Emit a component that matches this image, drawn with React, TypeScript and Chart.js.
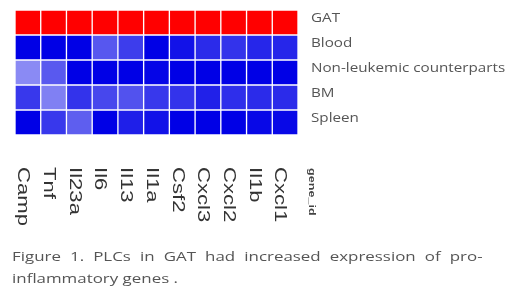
import React, { useEffect, useRef } from "react";
import { Chart, registerables } from "chart.js";

Chart.register(...registerables);

const genes = ["Camp", "Tnf", "Il23a", "Il6", "Il13", "Il1a", "Csf2", "Cxcl3", "Cxcl2", "Il1b", "Cxcl1"];
const rowNames = ["GAT", "Blood", "Non-leukemic counterparts", "BM", "Spleen"];
const headerLabel = "gene_id";

// z-scores per tissue (row), per gene (column)
const gatValues = [2.0, 2.0, 2.0, 2.0, 2.0, 2.0, 2.0, 2.0, 2.0, 2.0, 2.0];
const bloodValues = [-1.0, -1.0, -1.0, -0.66, -0.76, -1.0, -0.93, -0.83, -0.8, -0.85, -0.85];
const nonLeukemicValues = [-0.46, -0.65, -1.0, -1.0, -1.0, -0.98, -1.0, -1.0, -1.0, -1.0, -1.0];
const bmValues = [-0.78, -0.5, -0.8, -0.72, -0.68, -0.78, -0.8, -0.87, -0.82, -0.83, -0.83];
const spleenValues = [-1.0, -0.78, -0.63, -1.0, -0.88, -0.93, -1.0, -1.0, -1.0, -0.97, -0.97];

const rowValues = [gatValues, bloodValues, nonLeukemicValues, bmValues, spleenValues];
const cellHeights = [1, 1, 1, 1, 1, 1, 1, 1, 1, 1, 1];

function colorFor(v: number): string {
  if (v >= 0) {
    const t = Math.min(v / 2, 1);
    const c = Math.round(255 * (1 - t));
    return `rgb(255,${c},${c})`;
  }
  const t = Math.min(-v, 1);
  const c = Math.round(255 * (1 - t));
  const b = Math.round(255 - 25 * t);
  return `rgb(${c},${c},${b})`;
}

const labelPlugin = {
  id: "heatLabels",
  afterDraw(chart: any) {
    const ctx = chart.ctx;
    const xs = chart.scales.x;
    const ys = chart.scales.y;
    const n = rowNames.length;
    ctx.save();
    // row labels (right side)
    ctx.fillStyle = "#555";
    ctx.textAlign = "left";
    ctx.textBaseline = "middle";
    ctx.font = "13px 'Open Sans', sans-serif";
    rowNames.forEach((name, r) => {
      const y = ys.getPixelForValue(n - r - 0.5) - 4;
      ctx.save();
      ctx.translate(chart.chartArea.right + 13, y);
      ctx.scale(1.17, 1);
      ctx.fillText(name, 0, 0);
      ctx.restore();
    });
    // column labels (rotated, below)
    ctx.fillStyle = "#333";
    ctx.font = "17px 'Liberation Sans', Arial, sans-serif";
    genes.forEach((g, i) => {
      const x = xs.getPixelForValue(i) - 5;
      ctx.save();
      ctx.translate(x, 167);
      ctx.rotate(Math.PI / 2);
      ctx.scale(1.3, 1);
      ctx.fillText(g, 0, 0);
      ctx.restore();
    });
    ctx.font = "bold 9px 'Liberation Sans', Arial, sans-serif";
    ctx.fillStyle = "#444";
    ctx.save();
    ctx.translate(311, 168);
    ctx.rotate(Math.PI / 2);
    ctx.scale(1.4, 1);
    ctx.fillText(headerLabel, 0, 0);
    ctx.restore();
    ctx.restore();
  },
};

export default function App() {
  const ref = useRef<HTMLCanvasElement>(null);

  useEffect(() => {
    if (!ref.current) return;
    const n = rowNames.length;
    const datasets = rowNames
      .map((name, r) => ({
        label: name,
        data: cellHeights,
        backgroundColor: rowValues[r].map(colorFor),
        borderColor: "rgba(255,255,255,0.28)",
        borderWidth: 1,
        borderSkipped: false,
        barPercentage: 1,
        categoryPercentage: 1,
      }))
      .reverse();

    const chart = new Chart(ref.current, {
      type: "bar",
      data: { labels: genes, datasets },
      options: {
        animation: false,
        responsive: false,
        devicePixelRatio: 1,
        layout: { padding: { left: 15, top: 10, bottom: 160, right: 222 } },
        plugins: { legend: { display: false }, tooltip: { enabled: false } },
        scales: {
          x: { stacked: true, display: false },
          y: { stacked: true, display: false, min: 0, max: n },
        },
      },
      plugins: [labelPlugin],
    });
    return () => chart.destroy();
  }, []);

  const captionStyle: React.CSSProperties = {
    position: "absolute",
    left: 12,
    width: 362,
    fontFamily: "'Open Sans', sans-serif",
    fontSize: 13,
    lineHeight: "22px",
    color: "#555",
    whiteSpace: "nowrap",
    transform: "scaleX(1.3)",
    transformOrigin: "0 0",
  };

  return (
    <div style={{ position: "fixed", left: 0, top: 0, width: 520, height: 295, background: "#fff", overflow: "hidden" }}>
      <canvas ref={ref} width={520} height={295} style={{ position: "absolute", left: 0, top: 0 }} />
      <div style={{ ...captionStyle, top: 245, textAlign: "justify", textAlignLast: "justify" }}>
        Figure 1. PLCs in GAT had increased expression of pro-
      </div>
      <div style={{ ...captionStyle, top: 267 }}>inflammatory genes .</div>
    </div>
  );
}
